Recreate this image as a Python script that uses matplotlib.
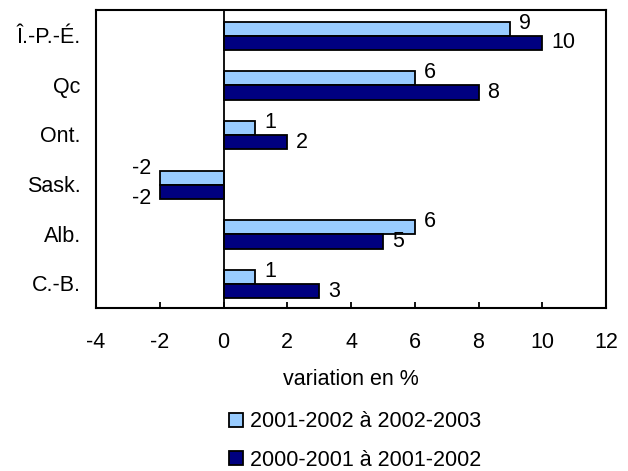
import matplotlib
matplotlib.use("Agg")
import matplotlib.pyplot as plt
import numpy as np

plt.rcParams['font.family'] = ['Liberation Sans', 'DejaVu Sans']

provinces = ["Î.-P.-É.", "Qc", "Ont.", "Sask.", "Alb.", "C.-B."]
recent = [9, 6, 1, -2, 6, 1]        # 2001-2002 à 2002-2003
previous = [10, 8, 2, -2, 5, 3]     # 2000-2001 à 2001-2002
series_labels = ["2001-2002 à 2002-2003", "2000-2001 à 2001-2002"]
xticks = [-4, -2, 0, 2, 4, 6, 8, 10, 12]

light = "#99CCFF"
dark = "#000080"
fs = 15.5

fig = plt.figure(figsize=(6.28, 4.71), dpi=100)
ax = fig.add_axes([96/628, 1 - 308/471, 510/628, 298/471])

y = np.arange(len(provinces))
h = 0.285
b1 = ax.barh(y - h/2 + 0.02, recent, height=h, color=light, edgecolor="black", linewidth=1.3, label=series_labels[0], zorder=3)
b2 = ax.barh(y + h/2 + 0.02, previous, height=h, color=dark, edgecolor="black", linewidth=1.3, label=series_labels[1], zorder=3)

for yi, v in zip(y - h/2 + 0.02, recent):
    if v >= 0:
        ax.annotate(str(v), (v, yi), xytext=(6.5, 4), textcoords="offset points",
                    ha="left", va="center", fontsize=fs)
    else:
        ax.annotate(str(v), (v, yi), xytext=(-6, 7), textcoords="offset points",
                    ha="right", va="center", fontsize=fs)
for yi, v in zip(y + h/2 + 0.02, previous):
    if v >= 0:
        ax.annotate(str(v), (v, yi), xytext=(6.5, 0), textcoords="offset points",
                    ha="left", va="center", fontsize=fs)
    else:
        ax.annotate(str(v), (v, yi), xytext=(-6, -5), textcoords="offset points",
                    ha="right", va="center", fontsize=fs)

ax.axvline(0, color="black", linewidth=1.3, zorder=4)
ax.set_xlim(-4, 12)
ax.set_ylim(len(provinces) - 0.5, -0.5)
ax.set_xticks(xticks)
ax.set_xticklabels([str(t) for t in xticks], fontsize=fs)
ax.set_yticks(y)
ax.set_yticklabels(provinces, fontsize=fs)
ax.tick_params(axis="y", length=0, pad=11)
ax.tick_params(axis="x", direction="in", length=4, width=1.3, pad=17)
for s in ax.spines.values():
    s.set_linewidth(1.5)
ax.set_xlabel("variation en %", fontsize=fs, labelpad=12)

fig.legend(handles=[b1, b2], labels=series_labels, loc="center",
           bbox_to_anchor=(355/628, 1 - 441/471), frameon=False, fontsize=fs,
           handlelength=0.65, handleheight=0.65, handletextpad=0.3, labelspacing=0.8,
           borderpad=0)

fig.savefig("out.png", dpi=100)
